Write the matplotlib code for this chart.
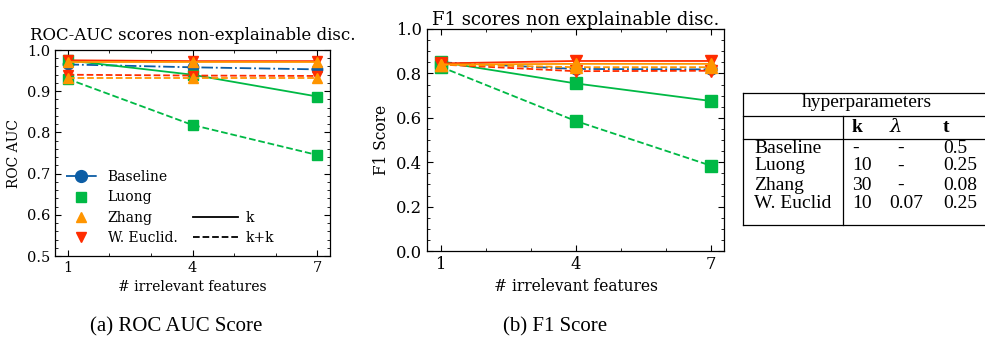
import numpy as np
import matplotlib
matplotlib.use("Agg")
import matplotlib.pyplot as plt
from matplotlib.lines import Line2D
from matplotlib.ticker import MultipleLocator

# data
features = [1, 4, 7]
methods = ["Baseline", "Luong", "Zhang", "W. Euclid."]
colors = ["#0C5DA5", "#00B945", "#FF9500", "#FF2C00"]
markers = ["o", "s", "^", "v"]
draw_order = ["Baseline", "Luong", "W. Euclid.", "Zhang"]

roc_k = {
    "Baseline": [0.965, 0.958, 0.953],
    "Luong": [0.975, 0.940, 0.887],
    "Zhang": [0.972, 0.972, 0.972],
    "W. Euclid.": [0.975, 0.973, 0.973],
}
roc_kk = {
    "Luong": [0.930, 0.818, 0.745],
    "Zhang": [0.933, 0.933, 0.933],
    "W. Euclid.": [0.940, 0.938, 0.937],
}
f1_k = {
    "Baseline": [0.850, 0.820, 0.818],
    "Luong": [0.852, 0.755, 0.676],
    "Zhang": [0.840, 0.843, 0.843],
    "W. Euclid.": [0.845, 0.856, 0.856],
}
f1_kk = {
    "Luong": [0.830, 0.586, 0.385],
    "Zhang": [0.840, 0.828, 0.828],
    "W. Euclid.": [0.840, 0.810, 0.812],
}

table_header = ["", "k", r"$\lambda$", "t"]
table_rows = [
    ["Baseline", "-", "-", "0.5"],
    ["Luong", "10", "-", "0.25"],
    ["Zhang", "30", "-", "0.08"],
    ["W. Euclid", "10", "0.07", "0.25"],
]

plt.rcParams["font.family"] = "DejaVu Serif"
plt.rcParams["mathtext.fontset"] = "dejavuserif"

W, H = 985, 341
fig = plt.figure(figsize=(W / 100, H / 100), dpi=100)


def px_axes(x0, y0, x1, y1):
    return fig.add_axes([x0 / W, 1 - y1 / H, (x1 - x0) / W, (y1 - y0) / H])


def style(ax, scale):
    ax.tick_params(which="both", direction="in", top=True, right=True, labelsize=10.5 * scale)
    ax.tick_params(which="major", length=4, width=0.8)
    ax.tick_params(which="minor", length=2, width=0.6)
    for s in ax.spines.values():
        s.set_linewidth(0.9)
    ax.set_xlim(0.7, 7.3)
    ax.set_xticks(features)
    ax.xaxis.set_minor_locator(MultipleLocator(1))
    ax.set_xlabel("# irrelevant features", fontsize=10 * scale)


def draw(ax, k_data, kk_data, ms):
    for m in draw_order:
        i = methods.index(m)
        c, mk = colors[i], markers[i]
        ls = "-." if m == "Baseline" else "-"
        ax.plot(features, k_data[m], color=c, marker=mk, ls=ls, lw=1.3, ms=ms)
        if m in kk_data:
            ax.plot(features, kk_data[m], color=c, marker=mk, ls="--", lw=1.3, ms=ms)


# (a) ROC AUC
ax1 = px_axes(55, 50, 330, 256)
draw(ax1, roc_k, roc_kk, 7.5)
style(ax1, 1.0)
ax1.set_ylim(0.5, 1.0)
ax1.yaxis.set_major_locator(MultipleLocator(0.1))
ax1.yaxis.set_minor_locator(MultipleLocator(0.02))
ax1.set_ylabel("ROC AUC", fontsize=10)
ax1.set_title("ROC-AUC scores non-explainable disc.", fontsize=12, pad=7)

h1 = [Line2D([], [], color=colors[0], marker="o", ls="-.", lw=1.3, ms=8.5)]
h1 += [Line2D([], [], color=c, marker=mk, ls="none", ms=6.5) for c, mk in zip(colors[1:], markers[1:])]
leg1 = ax1.legend(h1, methods, loc="lower left", bbox_to_anchor=(0.0, 0.0), frameon=False,
                  fontsize=10, handlelength=2.2, borderaxespad=0.4, labelspacing=0.45)
ax1.add_artist(leg1)
h2 = [Line2D([], [], color="black", ls="-", lw=1.3), Line2D([], [], color="black", ls="--", lw=1.3)]
ax1.legend(h2, ["k", "k+k"], loc="lower left", bbox_to_anchor=(0.46, 0.0), frameon=False,
           fontsize=10, handlelength=3.3, handletextpad=0.5, borderaxespad=0.4, labelspacing=0.45)

# (b) F1
ax2 = px_axes(427, 29, 724, 251)
draw(ax2, f1_k, f1_kk, 8)
style(ax2, 1.12)
ax2.set_ylim(0.0, 1.0)
ax2.yaxis.set_major_locator(MultipleLocator(0.2))
ax2.yaxis.set_minor_locator(MultipleLocator(0.05))
ax2.set_ylabel("F1 Score", fontsize=11.2)
ax2.set_title("F1 scores non explainable disc.", fontsize=13, pad=3)

# captions
cap_font = "Liberation Serif"
fig.text(176 / W, 1 - 327 / H, "(a) ROC AUC Score", ha="center", va="center", fontsize=15, family=cap_font)
fig.text(555 / W, 1 - 327 / H, "(b) F1 Score", ha="center", va="center", fontsize=15, family=cap_font)

# hyperparameter table
tx0, tx1 = 743, 990
ty0, ty1 = 93, 225
vsep = 843


def hline(y, x0=tx0, x1=tx1, lw=0.9):
    fig.add_artist(Line2D([x0 / W, x1 / W], [1 - y / H, 1 - y / H], color="black", lw=lw))


def vline(x, y0, y1, lw=0.9):
    fig.add_artist(Line2D([x / W, x / W], [1 - y0 / H, 1 - y1 / H], color="black", lw=lw))


hline(ty0)
hline(ty1)
hline(116)
hline(139)
vline(tx0, ty0, ty1)
vline(vsep, 116, ty1)

fig.text(867 / W, 1 - 103 / H, "hyperparameters", ha="center", va="center",
         fontsize=14, family=cap_font)
col_x = [754, 852, 889, 943]
for j, hd in enumerate(table_header):
    if hd:
        fig.text(col_x[j] / W, 1 - 127 / H, hd, ha="left", va="center", fontsize=14,
                 family=cap_font, weight="bold")
row_y = [148, 166, 185, 203]
for row, y in zip(table_rows, row_y):
    for j, val in enumerate(row):
        x = col_x[j] + (8 if val == "-" and j == 2 else 0)
        fig.text(x / W, 1 - y / H, val, ha="left", va="center", fontsize=14, family=cap_font)

fig.savefig("out.png", dpi=100)
